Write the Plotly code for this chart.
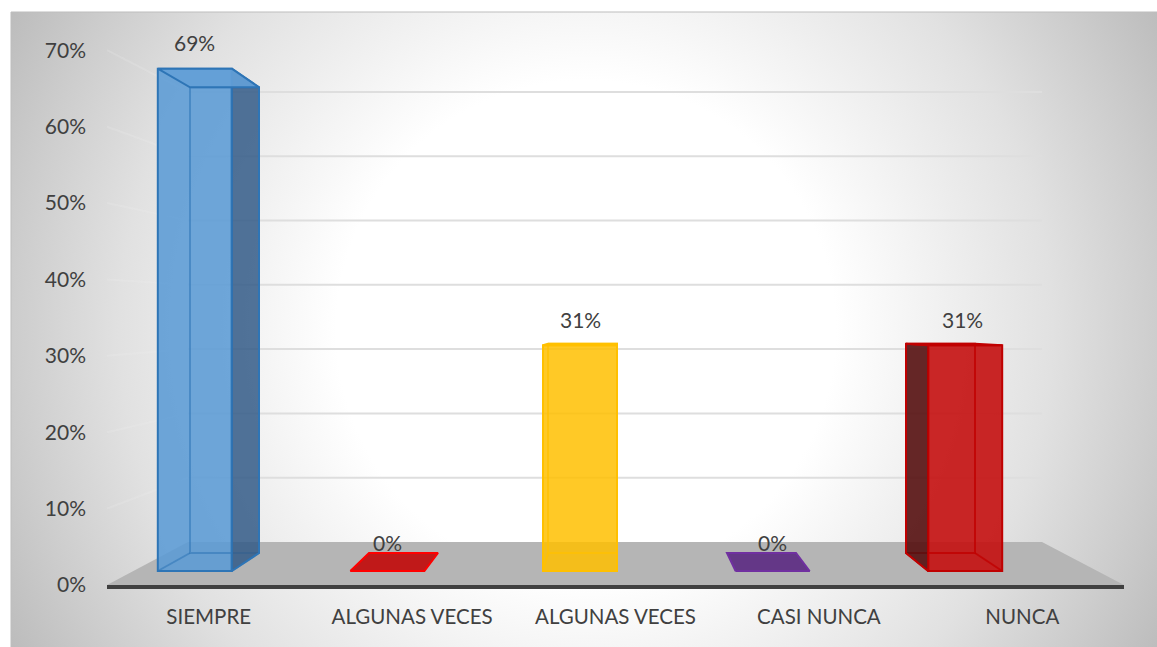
import base64
import plotly.graph_objects as go

# ---------- data ----------
categories = ["SIEMPRE", "ALGUNAS VECES", "ALGUNAS VECES", "CASI NUNCA", "NUNCA"]
values = [69, 0, 31, 0, 31]
labels = ["69%", "0%", "31%", "0%", "31%"]
tick_values = [0, 10, 20, 30, 40, 50, 60, 70]
tick_labels = ["0%", "10%", "20%", "30%", "40%", "50%", "60%", "70%"]

face_colors = ["rgba(91,155,213,0.88)", "rgba(192,20,20,0.9)", "rgba(255,192,0,0.85)",
               "rgba(100,50,135,0.95)", "rgba(196,16,16,0.9)"]
edge_colors = ["#2E75B6", "#FF0000", "#FFC000", "#7030A0", "#C00000"]
inner_colors = ["rgba(46,117,182,0.55)", "#FF0000", "rgba(255,192,0,0.7)", "#7030A0", "rgba(192,0,0,0.8)"]
side_colors = ["rgba(50,90,135,0.85)", "#C00000", "#FFC000", "#7030A0", "rgba(85,15,15,0.9)"]
top_colors = ["rgba(100,160,215,0.9)", "rgba(192,25,25,1)", "rgba(255,192,0,1)",
              "rgba(100,55,135,1)", "rgba(200,15,15,1)"]

# ---------- perspective model, in page pixels ----------
W, H = 1157, 647
AXIS_L, AXIS_R, AXIS_Y = 107, 1124, 585
FRONT_SCALE = 7.64
NEAR_Y0, NEAR_SCALE = 571, 7.28
FAR_Y0, FAR_SCALE = 553, 6.75
WALL_Y0, WALL_SCALE = 542, 6.43
WALL_L, WALL_R = 188, 1042
UNIT = (AXIS_R - AXIS_L) / 5


def px_to_x(px):
    return (px - AXIS_L) / UNIT - 0.5


def near_x(i):
    return px_to_x(580 + 192.6 * (i - 2))


def far_x(i):
    return px_to_x(582.5 + 179 * (i - 2))


NEAR_W = 74 / UNIT
FAR_W = 69 / UNIT


def far_v(v):  # a value on the far plane, in near-plane axis units (y2)
    return (NEAR_Y0 - (FAR_Y0 - FAR_SCALE * v)) / NEAR_SCALE


def wall_v(v):  # a value on the back wall, in front-scale axis units (y)
    return (AXIS_Y - (WALL_Y0 - WALL_SCALE * v)) / FRONT_SCALE


fig = go.Figure()

# tick-label carrier
fig.add_trace(go.Scatter(x=[-0.5] * len(tick_values), y=tick_values, mode="none",
                         showlegend=False, hoverinfo="skip"))

# side-wall gridlines
for v in tick_values[1:]:
    fig.add_trace(go.Scatter(x=[px_to_x(AXIS_L), px_to_x(WALL_L)], y=[v, wall_v(v)], mode="lines",
                             line=dict(color="rgba(238,238,238,0.2)", width=2),
                             showlegend=False, hoverinfo="skip"))
# back-wall gridlines
for v in tick_values[1:]:
    fig.add_trace(go.Scatter(x=[px_to_x(WALL_L), px_to_x(WALL_R)], y=[wall_v(v)] * 2, mode="lines",
                             line=dict(color="#DEDEDE", width=2),
                             showlegend=False, hoverinfo="skip"))
# floor
fig.add_trace(go.Scatter(
    x=[px_to_x(AXIS_L), px_to_x(WALL_L), px_to_x(WALL_R), px_to_x(AXIS_R), px_to_x(AXIS_L)],
    y=[0, wall_v(0), wall_v(0), 0, 0], mode="lines", fill="toself",
    fillcolor="#B5B5B5", line=dict(width=0), showlegend=False, hoverinfo="skip"))
n_back = len(fig.data)

# near faces
fig.add_trace(go.Bar(x=[near_x(i) for i in range(5)], y=values, width=NEAR_W,
                     marker=dict(color=face_colors, line=dict(color=edge_colors, width=2)),
                     showlegend=False, hoverinfo="skip"))

# 3D faces of each bar
for i, v in enumerate(values):
    nl, nr = near_x(i) - NEAR_W / 2, near_x(i) + NEAR_W / 2
    fl, fr = far_x(i) - FAR_W / 2, far_x(i) + FAR_W / 2
    top_near, top_far, bot_far = v, far_v(v), far_v(0)
    if v > 0:
        fig.add_trace(go.Scatter(x=[fl, fl, fr, fr, fl], y=[top_far, bot_far, bot_far, top_far, top_far],
                                 mode="lines", line=dict(color=inner_colors[i], width=2),
                                 showlegend=False, hoverinfo="skip"))
        fig.add_trace(go.Scatter(x=[nl, fl, None, nr, fr], y=[0, bot_far, None, 0, bot_far],
                                 mode="lines", line=dict(color=inner_colors[i], width=2),
                                 showlegend=False, hoverinfo="skip"))
        if fr > nr + 0.01:
            fig.add_trace(go.Scatter(x=[nr, fr, fr, nr, nr], y=[top_near, top_far, bot_far, 0, top_near],
                                     mode="lines", fill="toself", fillcolor=side_colors[i],
                                     line=dict(color=edge_colors[i], width=2),
                                     showlegend=False, hoverinfo="skip"))
        if fl < nl - 0.01:
            fig.add_trace(go.Scatter(x=[nl, fl, fl, nl, nl], y=[top_near, top_far, bot_far, 0, top_near],
                                     mode="lines", fill="toself", fillcolor=side_colors[i],
                                     line=dict(color=edge_colors[i], width=2),
                                     showlegend=False, hoverinfo="skip"))
    fig.add_trace(go.Scatter(x=[nl, nr, fr, fl, nl], y=[top_near, top_near, top_far, top_far, top_near],
                             mode="lines", fill="toself", fillcolor=top_colors[i],
                             line=dict(color=edge_colors[i], width=2),
                             showlegend=False, hoverinfo="skip"))

# data labels
FONT = "Lato, 'Open Sans', sans-serif"
annotations = []
for i, (v, t) in enumerate(zip(values, labels)):
    annotations.append(dict(x=near_x(i), y=v, xref="x", yref="y2", text=t, showarrow=False,
                            yanchor="middle", yshift=26 if v > 0 else 29,
                            xshift=-3 if i == 4 else 0,
                            font=dict(family=FONT, size=21, color="#404040")))

svg = """<svg xmlns='http://www.w3.org/2000/svg' width='1146' height='635' viewBox='0 0 1146 635' preserveAspectRatio='none'>
<defs><radialGradient id='g' gradientUnits='userSpaceOnUse' cx='575' cy='318' r='657'>
<stop offset='0' stop-color='#ffffff'/><stop offset='0.38' stop-color='#ffffff'/>
<stop offset='0.49' stop-color='#f5f5f5'/><stop offset='0.71' stop-color='#e1e1e1'/>
<stop offset='0.87' stop-color='#cdcdcd'/><stop offset='1' stop-color='#bcbcbc'/>
</radialGradient></defs><rect width='1146' height='635' fill='url(#g)'/></svg>"""
src = "data:image/svg+xml;base64," + base64.b64encode(svg.encode()).decode()

fig.update_layout(
    width=W, height=H, autosize=False,
    margin=dict(l=0, r=0, t=0, b=0),
    paper_bgcolor="white", plot_bgcolor="rgba(0,0,0,0)",
    showlegend=False, barmode="overlay",
    font=dict(family=FONT, size=20, color="#404040"),
    annotations=annotations,
    images=[dict(source=src, xref="paper", yref="paper", x=11 / W, y=1 - 12 / H,
                 sizex=1146 / W, sizey=635 / H, sizing="stretch",
                 xanchor="left", yanchor="top", layer="below")],
    shapes=[dict(type="rect", xref="paper", yref="paper", x0=11 / W, x1=1.01,
                 y0=-0.01, y1=1 - 12 / H, line=dict(color="#BDBDBD", width=1),
                 fillcolor="rgba(0,0,0,0)", layer="below")],
    xaxis=dict(domain=[AXIS_L / W, AXIS_R / W], range=[-0.5, 4.5], tickmode="array", automargin=False,
               tickvals=list(range(5)), ticktext=categories, showgrid=False, zeroline=False,
               showline=True, linecolor="#404040", linewidth=3.5, ticks="",
               ticklabelstandoff=11, tickfont=dict(family=FONT, size=20.5, color="#404040")),
    yaxis=dict(domain=[(H - AXIS_Y) / H, 1], range=[0, AXIS_Y / FRONT_SCALE], tickmode="array", automargin=False,
               tickvals=tick_values, ticktext=tick_labels, showgrid=False, zeroline=False,
               showline=False, ticks="", ticklabelstandoff=20,
               tickfont=dict(family=FONT, size=21, color="#404040")),
    yaxis2=dict(overlaying="y", side="left", visible=False, showgrid=False, zeroline=False, automargin=False,
                range=[(NEAR_Y0 - AXIS_Y) / NEAR_SCALE, NEAR_Y0 / NEAR_SCALE]),
)
for k, tr in enumerate(fig.data):
    if k >= n_back:
        tr.yaxis = "y2"

fig.write_html("out.html", config=dict(displayModeBar=False), default_width="1157px", default_height="647px",
               post_script="document.body.style.margin='0';document.body.style.overflow='hidden';")
